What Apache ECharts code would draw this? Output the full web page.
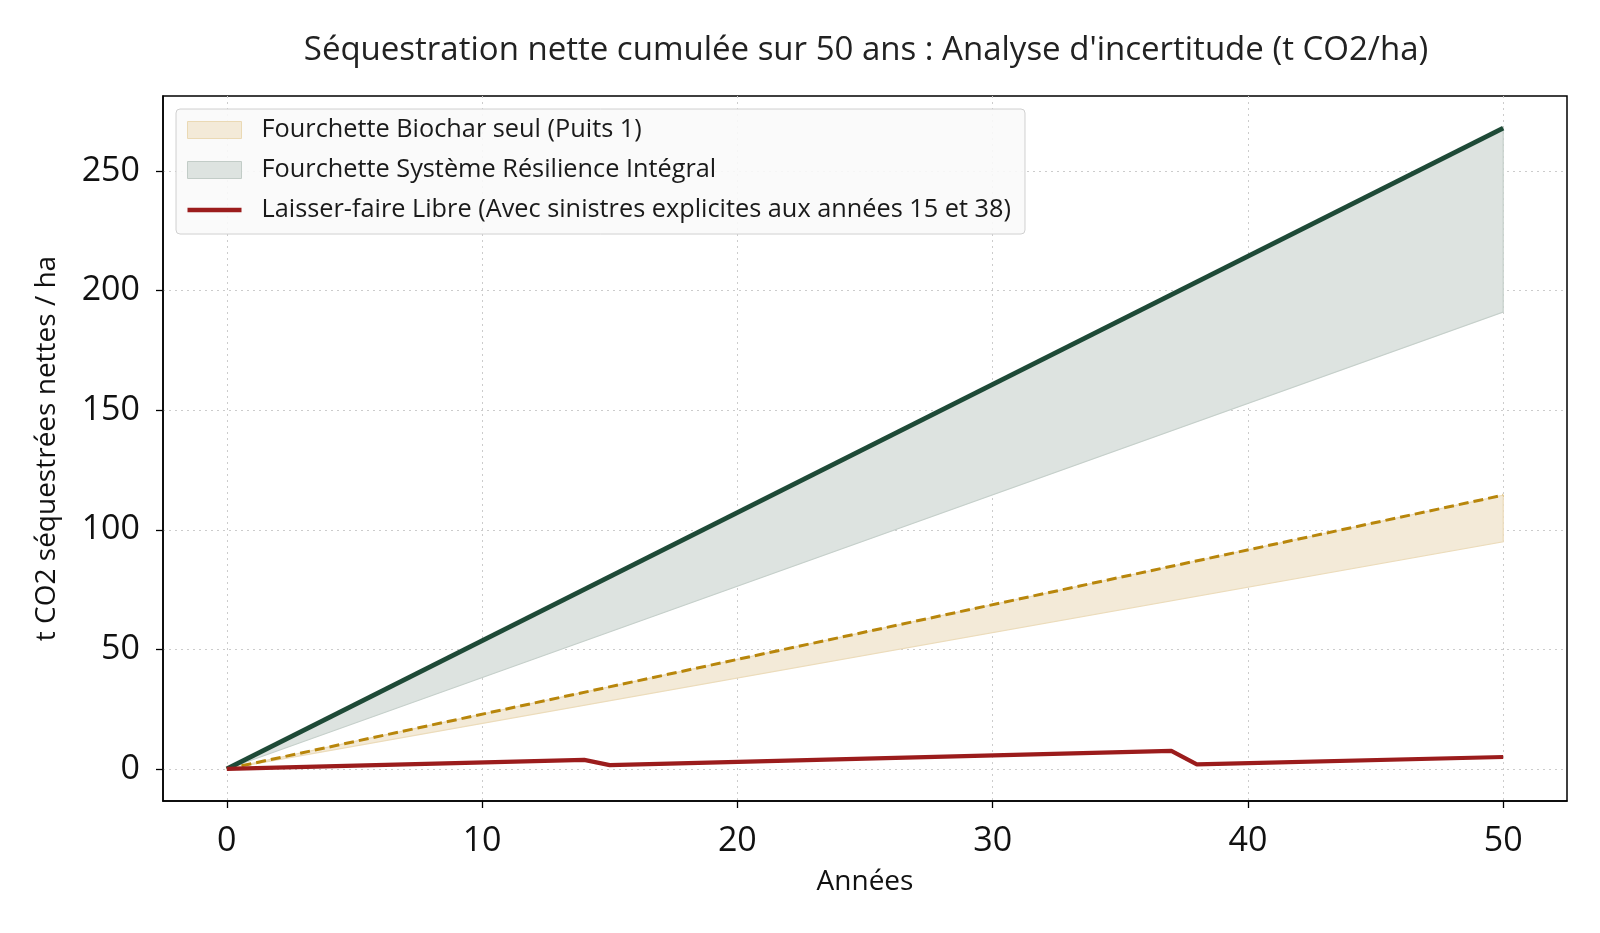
<!DOCTYPE html>
<html>
<head>
<meta charset="utf-8">
<title>Séquestration nette cumulée</title>
<script src="https://cdn.jsdelivr.net/npm/echarts@6/dist/echarts.min.js"></script>
<style>
  html, body { margin: 0; padding: 0; background: #fff; }
  #chart { width: 1600px; height: 933px; }
</style>
</head>
<body>
<div id="chart"></div>
<script>
// values (t CO2 / ha)
const years = [0, 50]
const resilienceHigh = [0, 268]
const resilienceLow = [0, 191]
const biocharHigh = [0, 114.5]
const biocharLow = [0, 95]
const laisserYears = [0, 14, 15, 37, 38, 50]
const laisserFaire = [0, 3.8, 1.6, 7.6, 1.9, 5.0]
const xTicks = [0, 10, 20, 30, 40, 50]
const yTicks = [0, 50, 100, 150, 200, 250]

const NAME_BIO = 'Fourchette Biochar seul (Puits 1)'
const NAME_RES = 'Fourchette Système Résilience Intégral'
const NAME_LF = 'Laisser-faire Libre (Avec sinistres explicites aux années 15 et 38)'

const FONT = 'Open Sans'

const pairs = (xs, ys) => xs.map((x, i) => [x, ys[i]])
// one polygon piece per interval: [x0, x1, lo0, lo1, hi0, hi1]
const bandPieces = (xs, lo, hi) =>
  xs.slice(0, -1).map((x, i) => [x, xs[i + 1], lo[i], lo[i + 1], hi[i], hi[i + 1]])

function bandSeries (name, lo, hi, fill, edge, z) {
  return {
    name: name,
    type: 'custom',
    silent: true,
    clip: true,
    z: z,
    itemStyle: { color: fill },
    encode: { x: [0, 1], y: [2, 3, 4, 5] },
    data: bandPieces(years, lo, hi),
    renderItem (params, api) {
      const pts = [
        api.coord([api.value(0), api.value(2)]),
        api.coord([api.value(1), api.value(3)]),
        api.coord([api.value(1), api.value(5)]),
        api.coord([api.value(0), api.value(4)])
      ]
      return {
        type: 'polygon',
        shape: { points: pts },
        style: { fill: fill, stroke: edge, lineWidth: 1.2 }
      }
    }
  }
}

const myChart = echarts.init(document.getElementById('chart'))

myChart.setOption({
  animation: false,
  textStyle: { fontFamily: FONT },
  title: {
    text: "Séquestration nette cumulée sur 50 ans : Analyse d'incertitude (t CO2/ha)",
    left: 861,
    top: 29,
    textAlign: 'center',
    textStyle: { fontSize: 33, fontWeight: 'normal', color: '#222', fontFamily: FONT }
  },
  grid: {
    left: 163,
    right: 33,
    top: 96,
    bottom: 132,
    show: true,
    borderColor: '#000',
    borderWidth: 1.5,
    backgroundColor: 'transparent'
  },
  legend: {
    orient: 'vertical',
    left: 176,
    top: 109,
    padding: [8, 14, 11, 11],
    itemWidth: 54,
    itemHeight: 17,
    itemGap: 14,
    backgroundColor: 'rgba(250,250,250,0.9)',
    borderColor: '#d0d0d0',
    borderWidth: 1,
    borderRadius: 4,
    textStyle: { fontSize: 25.3, lineHeight: 26, color: '#1a1a1a', fontFamily: FONT, padding: [0, 0, 0, 15] },
    data: [
      { name: NAME_BIO, icon: 'rect', itemStyle: { color: '#f3ead8', borderColor: '#ead9b4', borderWidth: 1 } },
      { name: NAME_RES, icon: 'rect', itemStyle: { color: '#dde3e0', borderColor: '#c2ccc7', borderWidth: 1 } },
      { name: NAME_LF, icon: 'path://M0,0H54V4.5H0Z', itemStyle: { color: '#9b1c1c' } }
    ]
  },
  xAxis: {
    type: 'value',
    min: -2.5,
    max: 52.5,
    name: 'Années',
    nameLocation: 'middle',
    nameGap: 67,
    nameTextStyle: { fontSize: 28, color: '#111', fontFamily: FONT },
    axisLine: { show: true, onZero: false, lineStyle: { color: '#000', width: 1.5 } },
    axisTick: { show: true, length: 7, customValues: xTicks, lineStyle: { color: '#000', width: 1.3 } },
    axisLabel: { customValues: xTicks, margin: 23, fontSize: 34, color: '#111', fontFamily: FONT },
    splitLine: { show: true, lineStyle: { color: '#cccccc', width: 1, type: [2, 4] } }
  },
  yAxis: {
    type: 'value',
    min: -13.4,
    max: 281.4,
    name: 't CO2 séquestrées nettes / ha',
    nameLocation: 'middle',
    nameGap: 102,
    nameTextStyle: { fontSize: 28, color: '#111', fontFamily: FONT },
    axisLine: { show: true, onZero: false, lineStyle: { color: '#000', width: 1.5 } },
    axisTick: { show: true, length: 7, customValues: yTicks, lineStyle: { color: '#000', width: 1.3 } },
    axisLabel: { customValues: yTicks, margin: 23, fontSize: 34, color: '#111', fontFamily: FONT },
    splitLine: { show: true, lineStyle: { color: '#cccccc', width: 1, type: [2, 4] } }
  },
  series: [
    bandSeries(NAME_RES, resilienceLow, resilienceHigh, '#dde3e0', '#c6d0cb', 1),
    bandSeries(NAME_BIO, biocharLow, biocharHigh, '#f3ead8', '#ecdcbb', 2),
    {
      name: 'bioHigh',
      type: 'line',
      data: pairs(years, biocharHigh),
      symbol: 'none',
      lineStyle: { color: '#b8860b', width: 3, type: [10, 5] },
      z: 3
    },
    {
      name: 'resHigh',
      type: 'line',
      data: pairs(years, resilienceHigh),
      symbol: 'none',
      lineStyle: { color: '#1e4a37', width: 4.8 },
      z: 4
    },
    {
      name: NAME_LF,
      type: 'line',
      data: pairs(laisserYears, laisserFaire),
      symbol: 'none',
      itemStyle: { color: '#9b1c1c' },
      lineStyle: { color: '#9b1c1c', width: 4.2 },
      z: 5
    }
  ]
})
</script>
</body>
</html>
